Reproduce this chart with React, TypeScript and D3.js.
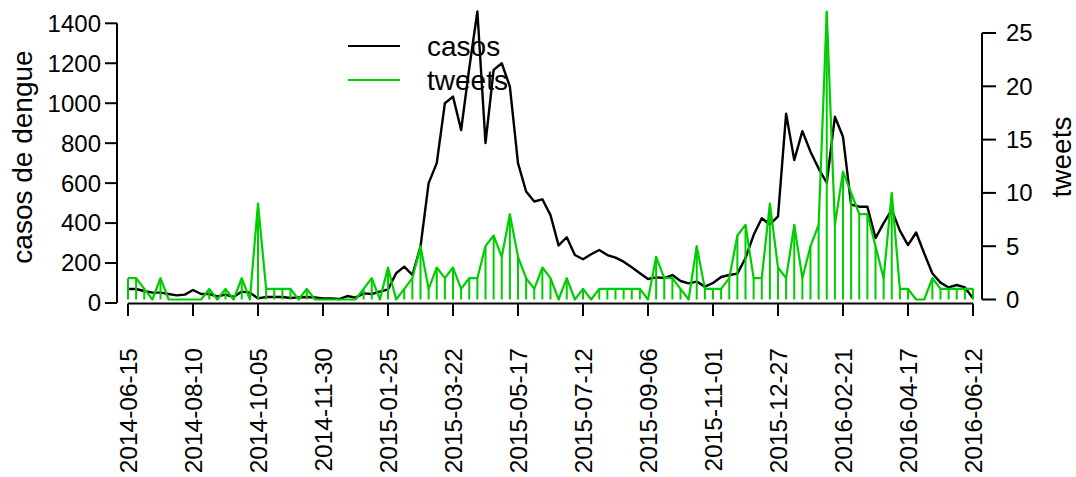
import React from 'react';
import * as d3 from 'd3';

// weekly series, starting 2014-06-15
const startWeek = '2014-06-15';

const casos: number[] = [
  70, 70, 60, 52, 52, 45, 38, 42, 65, 45,
  45, 33, 42, 30, 57, 52, 23, 30, 30, 30,
  25, 28, 30, 28, 23, 23, 20, 35, 27, 48,
  45, 57, 68, 149, 182, 140, 282, 600, 700, 1000,
  1033, 866, 1175, 1459, 800, 1167, 1200, 1083, 700, 558,
  508, 519, 440, 288, 329, 240, 219, 244, 265, 240,
  227, 207, 179, 149, 120, 128, 125, 140, 110, 98,
  107, 82, 100, 130, 140, 147, 225, 340, 424, 393,
  434, 948, 715, 860, 757, 673, 602, 932, 832, 492,
  482, 482, 325, 400, 466, 362, 290, 353, 248, 148,
  102, 78, 90, 78, 23,
];

const tweets: number[] = [
  2, 2, 1, 0, 2, 0, 0, 0, 0, 0,
  1, 0, 1, 0, 2, 0, 9, 1, 1, 1,
  1, 0, 1, 0, 0, 0, 0, 0, 0, 1,
  2, 0, 3, 0, 1, 2, 5, 1, 3, 2,
  3, 1, 2, 2, 5, 6, 4, 8, 4, 2,
  1, 3, 2, 0, 2, 0, 1, 0, 1, 1,
  1, 1, 1, 1, 0, 4, 2, 2, 1, 0,
  5, 1, 1, 1, 2, 6, 7, 2, 2, 9,
  3, 2, 7, 2, 5, 7, 27, 7, 12, 10,
  8, 8, 5, 2, 10, 1, 1, 0, 0, 2,
  1, 1, 1, 1, 1,
];

const xTickLabels = [
  '2014-06-15', '2014-08-10', '2014-10-05', '2014-11-30', '2015-01-25',
  '2015-03-22', '2015-05-17', '2015-07-12', '2015-09-06', '2015-11-01',
  '2015-12-27', '2016-02-21', '2016-04-17', '2016-06-12',
];
const leftTicks = [0, 200, 400, 600, 800, 1000, 1200, 1400];
const rightTicks = [0, 5, 10, 15, 20, 25];

const legendItems = [
  { label: 'casos', color: '#000000' },
  { label: 'tweets', color: '#00CD00' },
];

const WIDTH = 1076;
const HEIGHT = 477;
const FONT = '"Liberation Sans", Arial, Helvetica, sans-serif';
const GREEN = '#00CD00';

const parse = d3.utcParse('%Y-%m-%d');

const App: React.FC = () => {
  const start = parse(startWeek)!;
  const dates = casos.map((_, i) => d3.utcWeek.offset(start, i));

  const x = d3.scaleUtc()
    .domain([dates[0], dates[dates.length - 1]])
    .range([128, 973]);
  const yLeft = d3.scaleLinear().domain([0, 1400]).range([303, 23.3]);
  const yRight = d3.scaleLinear().domain([0, 25]).range([299.5, 33]);

  const casosLine = d3.line<number>()
    .x((_, i) => x(dates[i]))
    .y(d => yLeft(d));
  const tweetsLine = d3.line<number>()
    .x((_, i) => x(dates[i]))
    .y(d => yRight(d));

  const axisY = 303.5;

  return (
    <svg
      width={WIDTH}
      height={HEIGHT}
      style={{ position: 'absolute', left: 0, top: 0, background: '#fff' }}
      fontFamily={FONT}
    >
      {/* casos line */}
      <path d={casosLine(casos) || ''} fill="none" stroke="#000" strokeWidth={2.4} strokeLinejoin="round" />

      {/* tweets: vertical bars + line */}
      {tweets.map((v, i) => (
        <line
          key={`h-${i}`}
          x1={x(dates[i])}
          x2={x(dates[i])}
          y1={yRight(0)}
          y2={yRight(v)}
          stroke={GREEN}
          strokeWidth={2}
        />
      ))}
      <path d={tweetsLine(tweets) || ''} fill="none" stroke={GREEN} strokeWidth={2.2} strokeLinejoin="round" />

      {/* x axis */}
      <line x1={x(parse(xTickLabels[0])!)} x2={x(parse(xTickLabels[xTickLabels.length - 1])!)} y1={axisY} y2={axisY} stroke="#000" strokeWidth={2} />
      {xTickLabels.map(t => {
        const px = x(parse(t)!);
        return (
          <g key={t}>
            <line x1={px} x2={px} y1={axisY} y2={316} stroke="#000" strokeWidth={2} />
            <text
              transform={`translate(${px},348) rotate(-90)`}
              textAnchor="end"
              dy="0.35em"
              fontSize={24.5}
              fill="#000"
            >
              {t}
            </text>
          </g>
        );
      })}

      {/* left axis */}
      <line x1={117} x2={117} y1={yLeft(1400)} y2={yLeft(0)} stroke="#000" strokeWidth={2} />
      {leftTicks.map(t => (
        <g key={`l-${t}`}>
          <line x1={105} x2={117} y1={yLeft(t)} y2={yLeft(t)} stroke="#000" strokeWidth={2} />
          <text x={101} y={yLeft(t)} dy="0.35em" textAnchor="end" fontSize={24} fill="#000">{t}</text>
        </g>
      ))}
      <text transform="translate(32,157) rotate(-90)" textAnchor="middle" fontSize={28} fill="#000">
        casos de dengue
      </text>

      {/* right axis */}
      <line x1={982} x2={982} y1={yRight(25)} y2={yRight(0)} stroke="#000" strokeWidth={2} />
      {rightTicks.map(t => (
        <g key={`r-${t}`}>
          <line x1={982} x2={996} y1={yRight(t)} y2={yRight(t)} stroke="#000" strokeWidth={2} />
          <text x={1006} y={yRight(t)} dy="0.35em" textAnchor="start" fontSize={24} fill="#000">{t}</text>
        </g>
      ))}
      <text transform="translate(1071,157) rotate(-90)" textAnchor="middle" fontSize={28} fill="#000">
        tweets
      </text>

      {/* legend */}
      {legendItems.map((item, i) => {
        const ly = 46 + i * 34;
        return (
          <g key={item.label}>
            <line x1={348} x2={400} y1={ly} y2={ly} stroke={item.color} strokeWidth={2.2} />
            <text x={427} y={ly} dy="0.35em" fontSize={28} fill="#000">{item.label}</text>
          </g>
        );
      })}
    </svg>
  );
};

export default App;
